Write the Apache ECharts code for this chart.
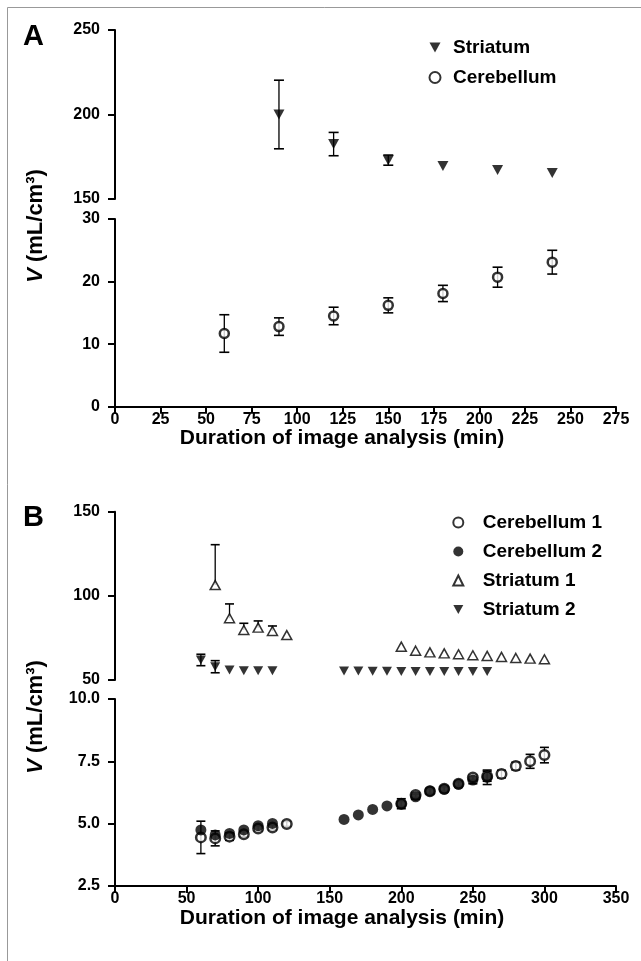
<!DOCTYPE html>
<html>
<head>
<meta charset="utf-8">
<script src="https://cdn.jsdelivr.net/npm/echarts@6/dist/echarts.min.js"></script>
<style>html,body{margin:0;padding:0;background:#fff;}#c{width:641px;height:961px;}</style>
</head>
<body>
<div id="c"></div>
<script>
// ---------- DATA ----------
// Panel A
const aXTicks = [0, 25, 50, 75, 100, 125, 150, 175, 200, 225, 250, 275];
const aStrX = [90, 120, 150, 180, 210, 240];
const aStrY = [200, 182.5, 173, 169.5, 167.2, 165.4];
const aStrErr = [20.3, 6.9, 3, 0, 0, 0];
const aCerX = [60, 90, 120, 150, 180, 210, 240];
const aCerY = [11.7, 12.8, 14.5, 16.2, 18.1, 20.7, 23.1];
const aCerErr = [3.0, 1.4, 1.4, 1.2, 1.3, 1.6, 1.9];

// Panel B
const bXTicks = [0, 50, 100, 150, 200, 250, 300, 350];
const bCer1X = [60, 70, 80, 90, 100, 110, 120, 200, 210, 220, 230, 240, 250, 260, 270, 280, 290, 300];
const bCer1Y = [4.45, 4.41, 4.48, 4.58, 4.81, 4.85, 4.99, 5.80, 6.15, 6.30, 6.40, 6.60, 6.85, 6.90, 6.99, 7.31, 7.50, 7.75];
const bCer1Err = [0.65, 0.30, 0.15, 0.10, 0.10, 0.10, 0.10, 0.20, 0.10, 0.10, 0.10, 0.10, 0.10, 0.20, 0.15, 0.15, 0.28, 0.31];
const bCer2X = [60, 70, 80, 90, 100, 110, 160, 170, 180, 190, 200, 210, 220, 230, 240, 250, 260];
const bCer2Y = [4.75, 4.55, 4.61, 4.75, 4.92, 5.01, 5.17, 5.35, 5.57, 5.71, 5.79, 6.08, 6.31, 6.38, 6.58, 6.75, 6.86];
const bCer2Err = [0, 0, 0, 0, 0, 0, 0, 0, 0, 0, 0.1, 0.1, 0.1, 0.1, 0.1, 0.15, 0.29];
const bStr1X = [70, 80, 90, 100, 110, 120, 200, 210, 220, 230, 240, 250, 260, 270, 280, 290, 300];
const bStr1Y = [106.4, 86.7, 79.7, 81.1, 79.1, 76.7, 69.8, 67.4, 66.4, 65.8, 65.3, 64.7, 64.3, 63.7, 63.1, 62.7, 62.3];
const bStr1ErrUp = [24, 8.5, 4, 4, 3, 0, 0, 0, 0, 0, 0, 0, 0, 0, 0, 0, 0];
const bStr2X = [60, 70, 80, 90, 100, 110, 160, 170, 180, 190, 200, 210, 220, 230, 240, 250, 260];
const bStr2Y = [61.9, 57.9, 56, 55.5, 55.5, 55.5, 55.3, 55.3, 55.2, 55.2, 55.1, 55, 55, 55, 55, 55, 55];
const bStr2Err = [3.4, 3.6, 0, 0, 0, 0, 0, 0, 0, 0, 0, 0, 0, 0, 0, 0, 0];

// ---------- CHART ----------
const FONT = '"Liberation Sans", Arial, sans-serif';
const pts = (xs, ys) => xs.map((x, i) => [x, ys[i]]);
const errs = (xs, ys, lo, hi) => xs.map((x, i) => [x, ys[i], lo[i], hi[i]]);
const DOWN_TRI = 'path://M0,0 L10,0 L5,9 Z';

function errRender(capW) {
  return function (params, api) {
    const x = api.value(0), y = api.value(1), lo = api.value(2), hi = api.value(3);
    if (!(lo > 0) && !(hi > 0)) return null;
    const t = api.coord([x, y + hi]);
    const b = api.coord([x, y - lo]);
    const ch = [{ type: 'line', shape: { x1: t[0], y1: t[1], x2: b[0], y2: b[1] }, style: { stroke: '#000', lineWidth: 1.3 } }];
    if (hi > 0) ch.push({ type: 'line', shape: { x1: t[0] - capW / 2, y1: t[1], x2: t[0] + capW / 2, y2: t[1] }, style: { stroke: '#000', lineWidth: 1.6 } });
    if (lo > 0) ch.push({ type: 'line', shape: { x1: b[0] - capW / 2, y1: b[1], x2: b[0] + capW / 2, y2: b[1] }, style: { stroke: '#000', lineWidth: 1.6 } });
    return { type: 'group', children: ch };
  };
}

const axisLine = { show: true, onZero: false, lineStyle: { color: '#000', width: 2 } };
const axisTick = { show: true, length: 7, lineStyle: { color: '#000', width: 2 } };
const axisLabelX = { color: '#000', fontWeight: 'bold', fontSize: 16, fontFamily: FONT, margin: 5 };
const axisLabelY = { color: '#000', fontWeight: 'bold', fontSize: 16, fontFamily: FONT, margin: 15 };

const GL = 115, GW = 501;
const grids = [
  { left: GL, top: 30, width: GW, height: 169 },
  { left: GL, top: 219, width: GW, height: 187.7 },
  { left: GL, top: 511.7, width: GW, height: 168.3 },
  { left: GL, top: 699, width: GW, height: 187 }
];

function xAx(gi, max, interval, show) {
  return {
    type: 'value', gridIndex: gi, min: 0, max: max, interval: interval,
    show: show, axisLine: axisLine, axisTick: axisTick, axisLabel: axisLabelX, splitLine: { show: false }
  };
}
function yAx(gi, min, max, interval, fmt) {
  return {
    type: 'value', gridIndex: gi, min: min, max: max, interval: interval,
    axisLine: axisLine, axisTick: axisTick,
    axisLabel: Object.assign({}, axisLabelY, fmt ? { formatter: fmt } : {}),
    splitLine: { show: false }
  };
}

const openCircle = { color: '#fff', borderColor: '#000', borderWidth: 2.5 };
const filled = { color: '#000' };
const openTri = { color: '#fff', borderColor: '#000', borderWidth: 1.5 };

const legendText = { color: '#000', fontWeight: 'bold', fontSize: 19, fontFamily: FONT, lineHeight: 19 };

const option = {
  animation: false,
  backgroundColor: '#fff',
  grid: grids,
  xAxis: [
    xAx(0, 275, 25, false),
    xAx(1, 275, 25, true),
    xAx(2, 350, 50, false),
    xAx(3, 350, 50, true)
  ],
  yAxis: [
    yAx(0, 150, 250, 50),
    yAx(1, 0, 30, 10),
    yAx(2, 50, 150, 50),
    yAx(3, 2.5, 10, 2.5, v => v.toFixed(1))
  ],
  legend: [
    {
      data: [{ name: 'Striatum', icon: DOWN_TRI }, { name: 'Cerebellum' }], orient: 'vertical', left: 423.5, top: 33,
      itemWidth: 11, itemHeight: 11, itemGap: 11, selectedMode: false,
      textStyle: Object.assign({ padding: [0, 0, 0, 7.5] }, legendText)
    },
    {
      data: [{ name: 'Cerebellum 1' }, { name: 'Cerebellum 2' }, { name: 'Striatum 1' }, { name: 'Striatum 2', icon: DOWN_TRI }],
      orient: 'vertical', left: 447.3, top: 508,
      itemWidth: 10, itemHeight: 10, itemGap: 10, selectedMode: false,
      textStyle: Object.assign({ padding: [0, 0, 0, 14.4] }, legendText)
    }
  ],
  series: [
    // Panel A
    { name: 'eA1', type: 'custom', xAxisIndex: 0, yAxisIndex: 0, renderItem: errRender(10), data: errs(aStrX, aStrY, aStrErr, aStrErr), z: 1, silent: true },
    { name: 'Striatum', type: 'scatter', xAxisIndex: 0, yAxisIndex: 0, symbol: 'triangle', symbolRotate: 180, symbolSize: [11, 10], itemStyle: filled, data: pts(aStrX, aStrY), z: 3 },
    { name: 'eA2', type: 'custom', xAxisIndex: 1, yAxisIndex: 1, renderItem: errRender(10), data: errs(aCerX, aCerY, aCerErr, aCerErr), z: 1, silent: true },
    { name: 'Cerebellum', type: 'scatter', xAxisIndex: 1, yAxisIndex: 1, symbol: 'circle', symbolSize: 9, itemStyle: openCircle, data: pts(aCerX, aCerY), z: 3 },
    // Panel B top
    { name: 'eB1', type: 'custom', xAxisIndex: 2, yAxisIndex: 2, renderItem: errRender(9), data: errs(bStr1X, bStr1Y, bStr1X.map(() => 0), bStr1ErrUp), z: 1, silent: true },
    { name: 'eB2', type: 'custom', xAxisIndex: 2, yAxisIndex: 2, renderItem: errRender(9), data: errs(bStr2X, bStr2Y, bStr2Err, bStr2Err), z: 1, silent: true },
    { name: 'Striatum 1', type: 'scatter', xAxisIndex: 2, yAxisIndex: 2, symbol: 'triangle', symbolSize: [10, 9], itemStyle: openTri, data: pts(bStr1X, bStr1Y), z: 3 },
    { name: 'Striatum 2', type: 'scatter', xAxisIndex: 2, yAxisIndex: 2, symbol: 'triangle', symbolRotate: 180, symbolSize: [10, 9], itemStyle: filled, data: pts(bStr2X, bStr2Y), z: 3 },
    // Panel B bottom
    { name: 'eB3', type: 'custom', xAxisIndex: 3, yAxisIndex: 3, renderItem: errRender(9), data: errs(bCer1X, bCer1Y, bCer1Err, bCer1Err), z: 1, silent: true },
    { name: 'eB4', type: 'custom', xAxisIndex: 3, yAxisIndex: 3, renderItem: errRender(9), data: errs(bCer2X, bCer2Y, bCer2Err, bCer2Err), z: 1, silent: true },
    { name: 'Cerebellum 1', type: 'scatter', xAxisIndex: 3, yAxisIndex: 3, symbol: 'circle', symbolSize: 9.5, itemStyle: openCircle, data: pts(bCer1X, bCer1Y), z: 3 },
    { name: 'Cerebellum 2', type: 'scatter', xAxisIndex: 3, yAxisIndex: 3, symbol: 'circle', symbolSize: 11, itemStyle: filled, data: pts(bCer2X, bCer2Y), z: 4 }
  ],
  graphic: [
    { type: 'polyline', shape: { points: [[7.5, 961], [7.5, 7.5], [641, 7.5]] }, style: { stroke: '#999', lineWidth: 1, fill: null }, silent: true },
    { type: 'text', left: 23, top: 22, style: { text: 'A', font: 'bold 29px ' + FONT, fill: '#000' } },
    { type: 'text', left: 23, top: 503, style: { text: 'B', font: 'bold 29px ' + FONT, fill: '#000' } },
    { type: 'text', x: 342, y: 438, style: { text: 'Duration of image analysis (min)', font: 'bold 21px ' + FONT, fill: '#000', align: 'center', verticalAlign: 'middle' } },
    { type: 'text', x: 342, y: 918, style: { text: 'Duration of image analysis (min)', font: 'bold 21px ' + FONT, fill: '#000', align: 'center', verticalAlign: 'middle' } },
    {
      type: 'text', x: 36, y: 226, rotation: Math.PI / 2,
      style: { text: '{i|V} (mL/cm³)', font: 'bold 22px ' + FONT, fill: '#000', align: 'center', verticalAlign: 'middle',
        rich: { i: { fontStyle: 'italic', fontWeight: 'bold', fontSize: 22, fontFamily: FONT, fill: '#000' } } }
    },
    {
      type: 'text', x: 36, y: 717, rotation: Math.PI / 2,
      style: { text: '{i|V} (mL/cm³)', font: 'bold 22px ' + FONT, fill: '#000', align: 'center', verticalAlign: 'middle',
        rich: { i: { fontStyle: 'italic', fontWeight: 'bold', fontSize: 22, fontFamily: FONT, fill: '#000' } } }
    }
  ]
};

const chart = echarts.init(document.getElementById('c'), null, { renderer: 'canvas' });
chart.setOption(option);
</script>
</body>
</html>
